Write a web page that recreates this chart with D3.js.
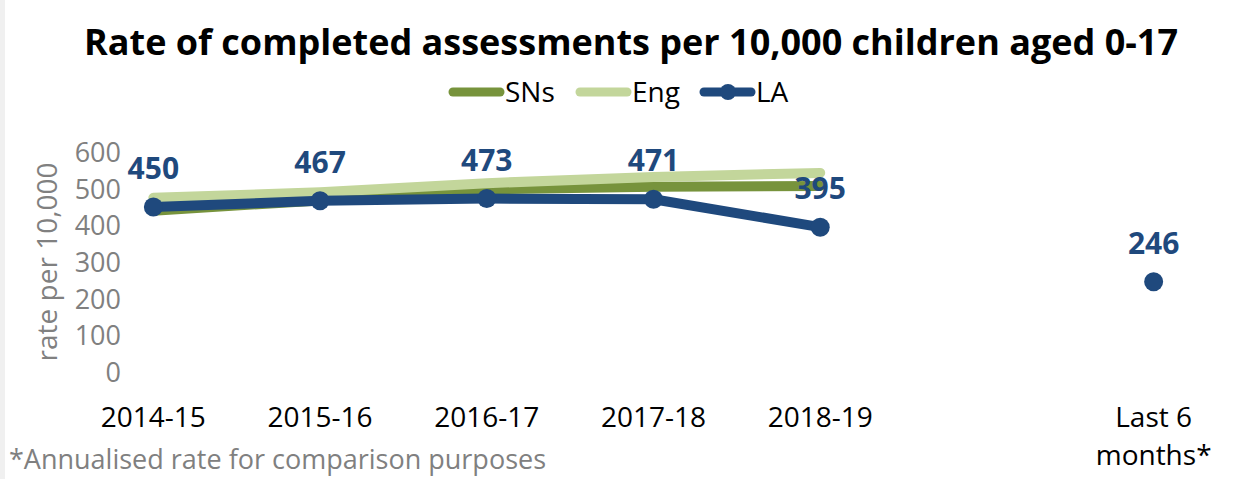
<!DOCTYPE html>
<html>
<head>
<meta charset="utf-8">
<script src="https://cdn.jsdelivr.net/npm/d3@7"></script>
<style>
  body { margin: 0; background: #fff; }
  svg { display: block; font-family: "Open Sans", "Noto Sans", sans-serif; }
</style>
</head>
<body>
<div id="chart"></div>
<script>
const categories = ['2014-15', '2015-16', '2016-17', '2017-18', '2018-19', '', 'Last 6 months*'];
const snsValues = [440, 468, 498, 505, 507, null, null];
const engValues = [475, 490, 515, 532, 543, null, null];
const laValues = [450, 467, 473, 471, 395, null, 246];
const yTicks = [0, 100, 200, 300, 400, 500, 600];

const width = 1247, height = 479;
const colors = { sns: '#77933C', eng: '#C3D69B', la: '#1F497D' };

const svg = d3.select('#chart').append('svg')
  .attr('width', width)
  .attr('height', height);

// faint strip on the left edge
svg.append('rect').attr('x', 0).attr('y', 0).attr('width', 5).attr('height', height).attr('fill', '#f0f0f0');

const x = d3.scaleBand().domain(d3.range(categories.length)).range([70, 1237]);
const y = d3.scaleLinear().domain([0, 600]).range([372, 152]);
const cx = i => x(i) + x.bandwidth() / 2;

// title
svg.append('text')
  .attr('x', 631).attr('y', 55)
  .attr('text-anchor', 'middle')
  .style('font-size', '36px').style('font-weight', 'bold').style('fill', '#000')
  .text('Rate of completed assessments per 10,000 children aged 0-17');

// legend
const legend = svg.append('g').attr('transform', 'translate(0,92)');
const legendItems = [
  { name: 'SNs', color: colors.sns, x0: 449, marker: false },
  { name: 'Eng', color: colors.eng, x0: 576, marker: false },
  { name: 'LA', color: colors.la, x0: 700, marker: true }
];
legendItems.forEach(d => {
  legend.append('line')
    .attr('x1', d.x0 + 4).attr('x2', d.x0 + 51).attr('y1', 0).attr('y2', 0)
    .attr('stroke', d.color).attr('stroke-width', 9).attr('stroke-linecap', 'round');
  if (d.marker) {
    legend.append('circle').attr('cx', d.x0 + 28).attr('cy', 0).attr('r', 8).attr('fill', d.color);
  }
  legend.append('text')
    .attr('x', d.x0 + 56).attr('y', 10)
    .style('font-size', '28px').style('fill', '#000')
    .text(d.name);
});

// y axis tick labels
svg.append('g').selectAll('text')
  .data(yTicks).join('text')
  .attr('x', 121).attr('y', d => y(d) + 10)
  .attr('text-anchor', 'end')
  .style('font-size', '27px').style('fill', '#808080')
  .text(d => d);

svg.append('text')
  .attr('transform', 'translate(57,262) rotate(-90)')
  .attr('text-anchor', 'middle')
  .style('font-size', '28px').style('fill', '#808080')
  .text('rate per 10,000');

// x axis labels
const xLabels = svg.append('g');
categories.forEach((c, i) => {
  if (!c) return;
  const lines = c === 'Last 6 months*' ? ['Last 6', 'months*'] : [c];
  const t = xLabels.append('text')
    .attr('text-anchor', 'middle')
    .style('font-size', '28px').style('fill', '#000');
  lines.forEach((l, j) => {
    t.append('tspan').attr('x', cx(i)).attr('y', 427 + j * 38).text(l);
  });
});

// footnote
svg.append('text')
  .attr('x', 9).attr('y', 469)
  .style('font-size', '27px').style('fill', '#808080')
  .text('*Annualised rate for comparison purposes');

// lines
const line = d3.line()
  .defined(d => d.v !== null)
  .x(d => cx(d.i))
  .y(d => y(d.v));

const toPts = arr => arr.map((v, i) => ({ i: i, v: v }));

[[snsValues, colors.sns], [engValues, colors.eng]].forEach(([vals, col]) => {
  svg.append('path')
    .datum(toPts(vals))
    .attr('d', line)
    .attr('fill', 'none')
    .attr('stroke', col)
    .attr('stroke-width', 10)
    .attr('stroke-linecap', 'round')
    .attr('stroke-linejoin', 'round');
});

const laPts = toPts(laValues).filter(d => d.v !== null);
svg.append('path')
  .datum(laPts.filter(d => d.i <= 4))
  .attr('d', line)
  .attr('fill', 'none')
  .attr('stroke', colors.la)
  .attr('stroke-width', 10)
  .attr('stroke-linejoin', 'round');

svg.append('g').selectAll('circle')
  .data(laPts).join('circle')
  .attr('cx', d => cx(d.i)).attr('cy', d => y(d.v))
  .attr('r', 9.5)
  .attr('fill', colors.la);

svg.append('g').selectAll('text')
  .data(laPts).join('text')
  .attr('x', d => cx(d.i)).attr('y', d => y(d.v) - 28)
  .attr('text-anchor', 'middle')
  .style('font-size', '30px').style('font-weight', 'bold').style('fill', colors.la)
  .text(d => d.v);
</script>
</body>
</html>
